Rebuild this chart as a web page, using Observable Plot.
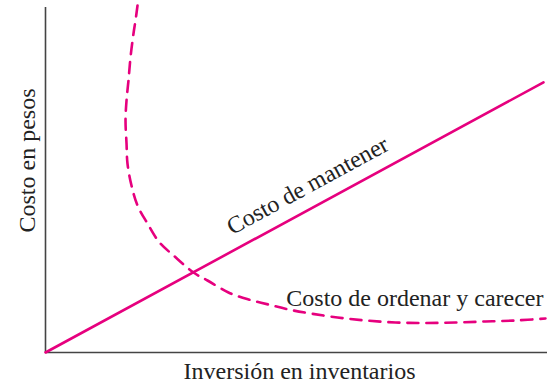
<!DOCTYPE html>
<html>
<head>
<meta charset="utf-8">
<script src="https://cdn.jsdelivr.net/npm/d3@7"></script>
<script src="https://cdn.jsdelivr.net/npm/@observablehq/plot@0.6"></script>
<style>
  html, body { margin: 0; padding: 0; background: #fff; }
  #chart svg { display: block; }
</style>
</head>
<body>
<div id="chart"></div>
<script>
// Costo de mantener (straight line)
const holdX = [0, 99.2];
const holdY = [0, 78.3];

// Costo de ordenar y carecer (dashed curve)
const orderX = [18.33, 17.93, 17.53, 16.93, 16.53, 16.14, 15.94, 16.14, 16.33, 17.13, 18.33, 20.32, 22.71, 25.50, 29.48, 32.27, 36.45, 40.44, 44.42, 48.41, 52.79, 58.17, 63.75, 69.72, 75.70, 81.67, 87.65, 93.63, 99.60];
const orderY = [100.58, 96.23, 92.46, 85.51, 78.84, 73.04, 67.25, 60.58, 54.78, 48.41, 42.61, 37.39, 31.88, 28.12, 23.19, 20.87, 17.39, 15.36, 13.91, 12.46, 11.30, 10.14, 9.28, 8.70, 8.55, 8.70, 8.99, 9.28, 9.86];

const labelTexts = ["Costo de mantener", "Costo de ordenar y carecer"];
const labelX = [52.2, 99.2];
const labelY = [48.4, 13.6];
const xTitle = "Inversión en inventarios";
const yTitle = "Costo en pesos";

const magenta = "#e6007e";
const font = "'Liberation Serif', 'Times New Roman', serif";

const hold = holdX.map((x, i) => ({x, y: holdY[i]}));
const order = orderX.map((x, i) => ({x, y: orderY[i]}));

const chart = Plot.plot({
  width: 558,
  height: 386,
  marginLeft: 45,
  marginRight: 11,
  marginTop: 7,
  marginBottom: 34,
  x: {domain: [0, 100], axis: null},
  y: {domain: [0, 100], axis: null},
  style: {fontFamily: font, background: "#fff"},
  marks: [
    Plot.ruleX([0], {stroke: "#444", strokeWidth: 1.6}),
    Plot.ruleY([0], {stroke: "#444", strokeWidth: 1.6}),
    Plot.line(order, {x: "x", y: "y", curve: "catmull-rom", stroke: magenta, strokeWidth: 2.6, strokeDasharray: "11,8"}),
    Plot.line(hold, {x: "x", y: "y", stroke: magenta, strokeWidth: 2.6}),
    Plot.text([labelTexts[0]], {x: labelX[0], y: labelY[0], text: d => d, rotate: -28.5, fontSize: 24, fill: "#222", textAnchor: "middle", lineAnchor: "middle"}),
    Plot.text([labelTexts[1]], {x: labelX[1], y: labelY[1], text: d => d, fontSize: 24, fill: "#222", textAnchor: "end", lineAnchor: "bottom"}),
    Plot.text([xTitle], {frameAnchor: "bottom", text: d => d, textAnchor: "middle", dx: 3, dy: 26, fontSize: 24, fill: "#222", lineAnchor: "bottom"}),
    Plot.text([yTitle], {frameAnchor: "left", text: d => d, textAnchor: "middle", rotate: -90, dx: -17.7, dy: -19.5, fontSize: 24, fill: "#222", lineAnchor: "middle"})
  ]
});
document.getElementById("chart").appendChild(chart);
</script>
</body>
</html>
